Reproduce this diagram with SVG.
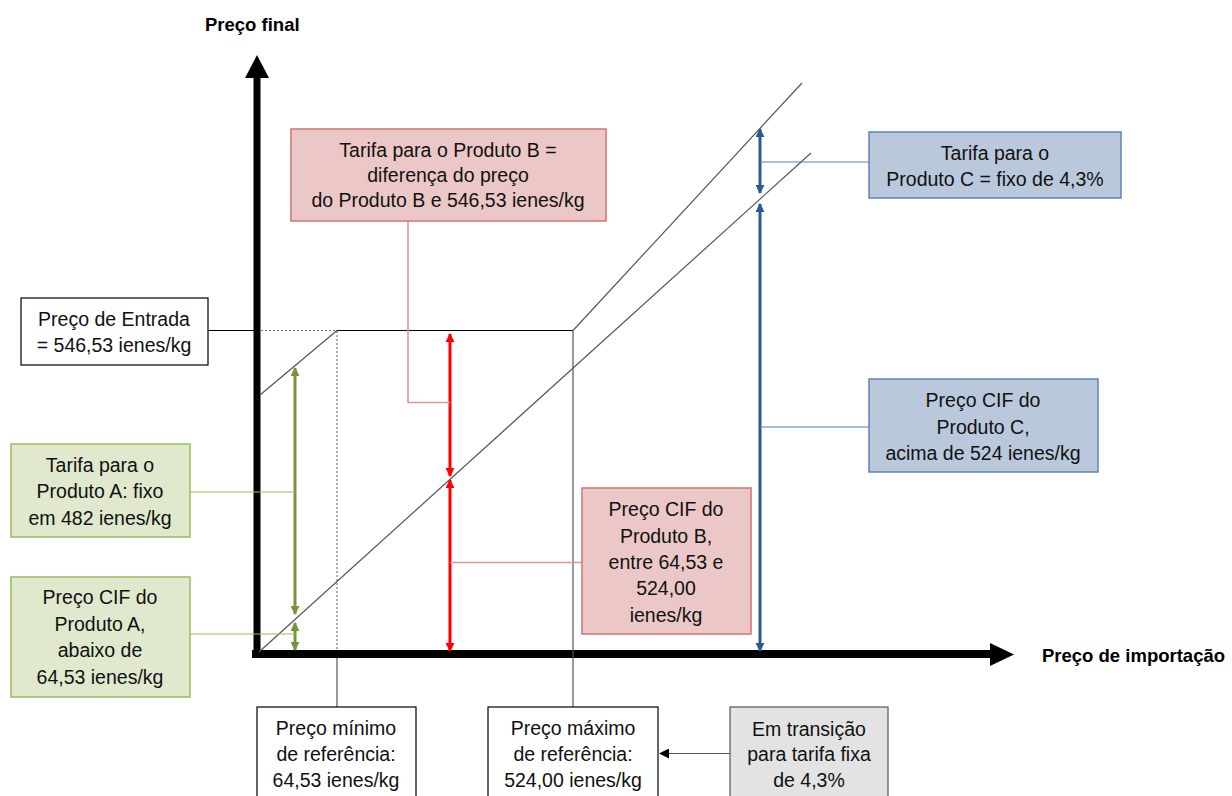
<svg xmlns="http://www.w3.org/2000/svg" width="1232" height="796" viewBox="0 0 1232 796">
<style>
text{font-family:"Liberation Sans",Arial,sans-serif;font-size:19.5px;fill:#111;text-anchor:middle}
.b{font-weight:bold;font-size:18.5px;text-anchor:start;fill:#000}
.thin{stroke:#000;stroke-width:1.2;fill:none}
.gray{stroke:#555;stroke-width:1.2;fill:none}
.diag{stroke:#555;stroke-width:1.2;fill:none}
.g{stroke:#77933C;stroke-width:3;fill:none}
.gc{stroke:#9BBB59;stroke-width:1.2;fill:none}
.r{stroke:#FF0000;stroke-width:3;fill:none}
.rc{stroke:#D99694;stroke-width:1.5;fill:none}
.bl{stroke:#2C5A8E;stroke-width:3;fill:none}
.bc{stroke:#4F81BD;stroke-width:1.2;fill:none}
.boxw{fill:#fff;stroke:#000;stroke-width:1.2}
.boxg{fill:#E0E9CE;stroke:#9BBB59;stroke-width:1.5}
.boxr{fill:#EBC8C7;stroke:#D27370;stroke-width:1.5}
.boxb{fill:#B9C8DB;stroke:#5F84B8;stroke-width:1.5}
.boxgr{fill:#E3E3E3;stroke:#555;stroke-width:1.2}
</style>
<defs>
<marker id="mg" viewBox="0 0 10 10" refX="9" refY="5" markerWidth="3" markerHeight="3" orient="auto-start-reverse" markerUnits="strokeWidth"><path d="M0,0L10,5L0,10z" fill="#77933C"/></marker>
<marker id="mr" viewBox="0 0 10 10" refX="9" refY="5" markerWidth="3" markerHeight="3" orient="auto-start-reverse" markerUnits="strokeWidth"><path d="M0,0L10,5L0,10z" fill="#FF0000"/></marker>
<marker id="mb" viewBox="0 0 10 10" refX="9" refY="5" markerWidth="3" markerHeight="3" orient="auto-start-reverse" markerUnits="strokeWidth"><path d="M0,0L10,5L0,10z" fill="#2C5A8E"/></marker>
<marker id="mk" viewBox="0 0 10 10" refX="9" refY="5" markerWidth="10" markerHeight="10" orient="auto" markerUnits="userSpaceOnUse"><path d="M0,0L10,5L0,10z" fill="#000"/></marker>
</defs>

<g id="axes">
<line x1="257" y1="655" x2="257" y2="75" stroke="#000" stroke-width="7"/>
<path d="M245,78L257,55L269,78z" fill="#000"/>
<line x1="252" y1="654" x2="992" y2="654" stroke="#000" stroke-width="8"/>
<path d="M990,643L1014,654.5L990,666z" fill="#000"/>
<text class="b" x="205" y="31">Preço final</text>
<text class="b" x="1042" y="662">Preço de importação</text>
</g>

<g id="connectors">
<line class="thin" x1="208" y1="330.5" x2="257" y2="330.5"/>
<line x1="261" y1="330.5" x2="337" y2="330.5" stroke="#777" stroke-width="1.2" stroke-dasharray="2,2"/>
<line class="thin" x1="337" y1="330.5" x2="573" y2="330.5"/>
<line x1="337" y1="331" x2="337" y2="651" stroke="#777" stroke-width="1.2" stroke-dasharray="2,2"/>
<line class="gray" x1="337" y1="658" x2="337" y2="707"/>
<line class="gray" x1="573" y1="330.5" x2="573" y2="707"/>
<line class="diag" x1="259" y1="652" x2="811" y2="153"/>
<line class="diag" x1="260" y1="395" x2="337" y2="330.5"/>
<line class="diag" x1="573" y1="330.5" x2="802" y2="83"/>
<line class="g" x1="295" y1="368" x2="295" y2="614" marker-start="url(#mg)" marker-end="url(#mg)"/>
<line class="g" x1="295" y1="623" x2="295" y2="650" marker-start="url(#mg)" marker-end="url(#mg)"/>
<line class="gc" x1="190" y1="492" x2="295" y2="492"/>
<line class="gc" x1="190" y1="634" x2="295" y2="634"/>
<line class="r" x1="450" y1="334" x2="450" y2="476" marker-start="url(#mr)" marker-end="url(#mr)"/>
<line class="r" x1="450" y1="480" x2="450" y2="651" marker-start="url(#mr)" marker-end="url(#mr)"/>
<polyline class="rc" points="408,221 408,402.5 450,402.5"/>
<line class="rc" x1="450" y1="562.5" x2="582" y2="562.5"/>
<line class="bl" x1="760" y1="129" x2="760" y2="193" marker-start="url(#mb)" marker-end="url(#mb)"/>
<line class="bl" x1="760" y1="204" x2="760" y2="651" marker-start="url(#mb)" marker-end="url(#mb)"/>
<line class="bc" x1="760" y1="162" x2="869" y2="162"/>
<line class="bc" x1="760" y1="427" x2="869" y2="427"/>
<line class="gray" x1="730" y1="753.5" x2="660" y2="753.5" marker-end="url(#mk)"/>
</g>

<g id="n-entrada">
<rect class="boxw" x="21" y="298" width="187" height="67"/>
<text x="114" y="326">Preço de Entrada</text>
<text x="114" y="352">= 546,53 ienes/kg</text>
</g>

<g id="n-tarifaA">
<rect class="boxg" x="11" y="444" width="179" height="93"/>
<text x="100" y="472">Tarifa para o</text>
<text x="100" y="498">Produto A: fixo</text>
<text x="100" y="525">em 482 ienes/kg</text>
</g>

<g id="n-cifA">
<rect class="boxg" x="11" y="577" width="179" height="120"/>
<text x="100" y="604">Preço CIF do</text>
<text x="100" y="631">Produto A,</text>
<text x="100" y="657">abaixo de</text>
<text x="100" y="684">64,53 ienes/kg</text>
</g>

<g id="n-tarifaB">
<rect class="boxr" x="291" y="129" width="315" height="92"/>
<text x="448" y="157">Tarifa para o Produto B =</text>
<text x="448" y="182">diferença do preço</text>
<text x="448" y="207">do Produto B e 546,53 ienes/kg</text>
</g>

<g id="n-cifB">
<rect class="boxr" x="582" y="488" width="169" height="146"/>
<text x="666" y="516">Preço CIF do</text>
<text x="666" y="543">Produto B,</text>
<text x="666" y="569">entre 64,53  e</text>
<text x="666" y="595">524,00</text>
<text x="666" y="622">ienes/kg</text>
</g>

<g id="n-tarifaC">
<rect class="boxb" x="869" y="132" width="252" height="66"/>
<text x="995" y="160">Tarifa para o</text>
<text x="995" y="186">Produto C = fixo de 4,3%</text>
</g>

<g id="n-cifC">
<rect class="boxb" x="869" y="379" width="229" height="93"/>
<text x="983" y="407">Preço CIF do</text>
<text x="983" y="434">Produto C,</text>
<text x="983" y="460">acima de 524 ienes/kg</text>
</g>

<g id="n-min">
<rect class="boxw" x="257" y="707" width="159" height="100"/>
<text x="336" y="735">Preço mínimo</text>
<text x="336" y="761">de referência:</text>
<text x="336" y="787">64,53 ienes/kg</text>
</g>

<g id="n-max">
<rect class="boxw" x="488" y="707" width="170" height="100"/>
<text x="573" y="735">Preço máximo</text>
<text x="573" y="761">de referência:</text>
<text x="573" y="787">524,00 ienes/kg</text>
</g>

<g id="n-transicao">
<rect class="boxgr" x="730" y="707" width="158" height="100"/>
<text x="809" y="736">Em transição</text>
<text x="809" y="761">para tarifa fixa</text>
<text x="809" y="787">de 4,3%</text>
</g>
</svg>
